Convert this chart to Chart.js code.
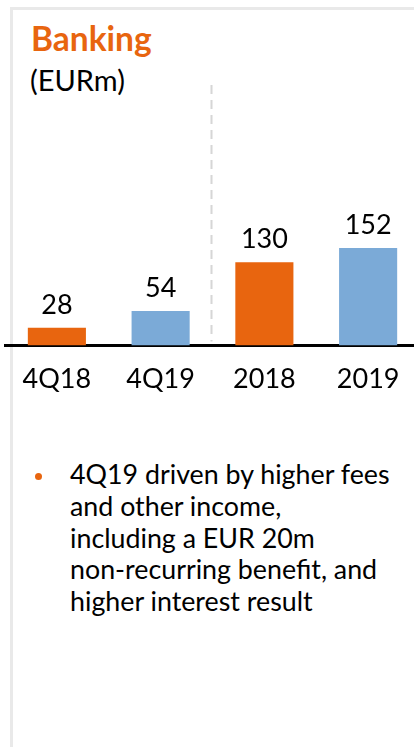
<!DOCTYPE html>
<html>
<head>
<meta charset="utf-8">
<script src="https://cdn.jsdelivr.net/npm/chart.js@4/dist/chart.umd.min.js"></script>
<style>
  html, body { margin: 0; padding: 0; background: #fff; }
  body { width: 414px; height: 747px; overflow: hidden; position: relative; font-family: Lato, "Noto Sans", sans-serif; color: #000; }
  #frame { position: absolute; left: 10px; top: 7px; width: 420px; height: 760px; border-top: 3px solid #e9e9e9; border-left: 3px solid #e9e9e9; }
  #title { position: absolute; left: 31px; top: 18px; font-size: 33.5px; font-weight: bold; color: #e8650f; line-height: 40px; }
  #unit { position: absolute; left: 30px; top: 63px; font-size: 29px; line-height: 34px; }
  #myBarChart { position: absolute; left: 0; top: 0; }
  #note { position: absolute; left: 70px; top: 459px; width: 344px; font-size: 26.8px; line-height: 31.8px; }
  #dot { position: absolute; left: 35px; top: 473px; width: 7px; height: 7px; border-radius: 50%; background: #e8650f; }
</style>
</head>
<body>
<div id="frame"></div>
<div id="title">Banking</div>
<div id="unit">(EURm)</div>
<canvas id="myBarChart" width="420" height="412"></canvas>
<div id="dot"></div>
<div id="note">4Q19 driven by higher fees<br>and other income,<br>including a EUR 20m<br>non-recurring benefit, and<br>higher interest result</div>
<script>
'use strict';

// Chart data
const periods = ['4Q18', '4Q19', '2018', '2019'];
const income = [28, 54, 130, 152];
const barColors = ['#e8650f', '#7baad7', '#e8650f', '#7baad7'];

// Value labels above bars
const valueLabels = {
    id: 'valueLabels',
    afterDatasetsDraw(chart) {
        const ctx = chart.ctx;
        const meta = chart.getDatasetMeta(0);
        ctx.save();
        ctx.font = '27px Lato';
        ctx.fillStyle = '#000';
        ctx.textAlign = 'center';
        ctx.textBaseline = 'alphabetic';
        meta.data.forEach((bar, i) => {
            ctx.fillText(String(income[i]), bar.x, bar.y - 14);
        });
        ctx.restore();
    }
};

// Dashed separator between quarters and full years
const separator = {
    id: 'separator',
    beforeDatasetsDraw(chart) {
        const ctx = chart.ctx;
        const x = chart.scales.x;
        const px = (x.getPixelForValue(1) + x.getPixelForValue(2)) / 2 - 1;
        ctx.save();
        ctx.strokeStyle = '#d6d6d6';
        ctx.lineWidth = 2;
        ctx.setLineDash([9, 6]);
        ctx.beginPath();
        ctx.moveTo(px, chart.chartArea.top);
        ctx.lineTo(px, chart.chartArea.bottom - 4);
        ctx.stroke();
        ctx.restore();
    }
};

function graphInit() {
    const canvas = document.getElementById('myBarChart');
    const ctx = canvas.getContext('2d');
    return new Chart(ctx, {
        type: 'bar',
        data: {
            labels: periods,
            datasets: [{
                data: income,
                backgroundColor: barColors,
                borderWidth: 0,
                categoryPercentage: 1,
                barPercentage: 0.56
            }]
        },
        options: {
            responsive: false,
            animation: false,
            layout: { padding: { left: 5, right: 0, top: 85, bottom: 0 } },
            plugins: {
                legend: { display: false },
                tooltip: { enabled: false }
            },
            scales: {
                x: {
                    grid: { display: false, drawTicks: false },
                    border: { display: true, color: '#000', width: 3 },
                    ticks: { color: '#000', font: { family: 'Lato', size: 27 }, padding: 17 }
                },
                y: {
                    display: false,
                    min: 0,
                    max: 406
                }
            }
        },
        plugins: [separator, valueLabels]
    });
}

graphInit();
</script>
</body>
</html>
